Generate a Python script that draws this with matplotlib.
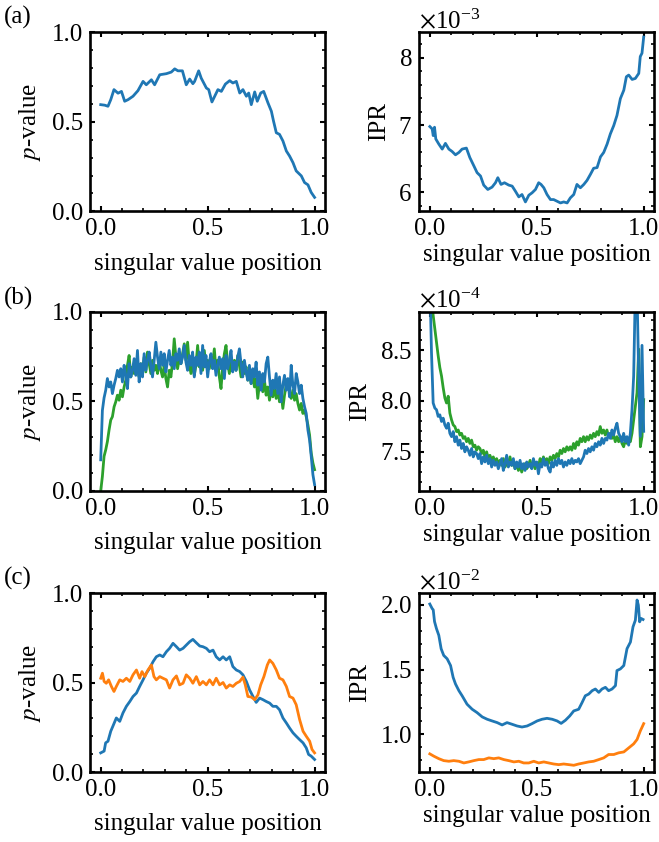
import numpy as np
import matplotlib
matplotlib.use("Agg")
import matplotlib.pyplot as plt
from matplotlib.ticker import MultipleLocator, AutoMinorLocator

# ---- data ----
# (a) p-value
xa_p = [0.000, 0.019, 0.034, 0.047, 0.062, 0.081, 0.097, 0.112, 0.128, 0.151, 0.174, 0.198, 0.213,
        0.237, 0.252, 0.276, 0.307, 0.330, 0.346, 0.361, 0.382, 0.400, 0.416, 0.431, 0.439, 0.458,
        0.470, 0.494, 0.505, 0.520, 0.533, 0.548, 0.564, 0.583, 0.603, 0.618, 0.634, 0.650, 0.665,
        0.681, 0.692, 0.704, 0.720, 0.732, 0.748, 0.762, 0.782, 0.798, 0.808, 0.821, 0.836, 0.852,
        0.868, 0.883, 0.899, 0.914, 0.938, 0.953, 0.969, 0.984, 1.000]
pa = [0.596, 0.593, 0.587, 0.624, 0.680, 0.660, 0.670, 0.615, 0.624, 0.643, 0.674, 0.726, 0.707,
      0.735, 0.707, 0.763, 0.769, 0.778, 0.796, 0.785, 0.785, 0.707, 0.739, 0.713, 0.726, 0.785,
      0.744, 0.689, 0.680, 0.611, 0.643, 0.680, 0.670, 0.711, 0.730, 0.717, 0.726, 0.661, 0.680,
      0.643, 0.661, 0.596, 0.667, 0.615, 0.661, 0.670, 0.606, 0.559, 0.504, 0.439, 0.430, 0.393,
      0.337, 0.309, 0.272, 0.226, 0.198, 0.161, 0.148, 0.106, 0.078]

# (a) IPR, units of 1e-3
xa_i = [0.000, 0.011, 0.016, 0.022, 0.028, 0.042, 0.058, 0.073, 0.089, 0.104, 0.120, 0.136, 0.151,
        0.171, 0.187, 0.206, 0.221, 0.237, 0.252, 0.271, 0.291, 0.307, 0.318, 0.333, 0.349, 0.369,
        0.385, 0.400, 0.416, 0.431, 0.447, 0.463, 0.478, 0.494, 0.509, 0.520, 0.533, 0.548, 0.564,
        0.579, 0.595, 0.611, 0.626, 0.642, 0.657, 0.673, 0.688, 0.704, 0.720, 0.735, 0.751, 0.766,
        0.782, 0.798, 0.813, 0.829, 0.844, 0.860, 0.875, 0.891, 0.907, 0.919, 0.930, 0.946, 0.961,
        0.977, 0.984, 0.992, 1.000]
ia = [6.98, 6.945, 6.845, 6.97, 6.795, 6.72, 6.645, 6.73, 6.645, 6.61, 6.56, 6.595, 6.645,
      6.66, 6.52, 6.395, 6.295, 6.245, 6.11, 6.045, 6.08, 6.145, 6.22, 6.12, 6.145, 6.11,
      6.095, 6.02, 5.935, 5.97, 5.86, 5.96, 5.995, 6.045, 6.145, 6.12, 6.07, 5.97, 5.895,
      5.895, 5.87, 5.845, 5.86, 5.845, 5.92, 5.97, 6.12, 6.07, 6.12, 6.18, 6.27, 6.36,
      6.37, 6.53, 6.595, 6.72, 6.87, 6.995, 7.145, 7.395, 7.52, 7.72, 7.745, 7.68, 7.695,
      7.77, 8.02, 8.07, 8.31]

# (b) p-value, evenly spaced positions
pb_blue = [0.174, 0.45, 0.52, 0.563, 0.628, 0.581, 0.609, 0.544,
           0.591, 0.628, 0.674, 0.637, 0.683, 0.609, 0.702, 0.646, 0.572, 0.711, 0.637, 0.674,
           0.739, 0.646, 0.785, 0.609, 0.711, 0.637, 0.767, 0.674, 0.73, 0.776, 0.702, 0.637,
           0.73, 0.831, 0.748, 0.683, 0.776, 0.702, 0.767, 0.665, 0.73, 0.785, 0.702, 0.748,
           0.683, 0.767, 0.73, 0.794, 0.711, 0.748, 0.813, 0.72, 0.674, 0.757, 0.702, 0.776,
           0.637, 0.748, 0.702, 0.776, 0.656, 0.813, 0.693, 0.757, 0.637, 0.72, 0.767, 0.683,
           0.73, 0.646, 0.702, 0.748, 0.683, 0.739, 0.628, 0.757, 0.683, 0.73, 0.785, 0.665,
           0.72, 0.674, 0.748, 0.794, 0.711, 0.637, 0.73, 0.665, 0.619, 0.702, 0.6, 0.683,
           0.637, 0.72, 0.591, 0.665, 0.563, 0.656, 0.609, 0.711, 0.748, 0.637, 0.535, 0.619,
           0.572, 0.656, 0.544, 0.637, 0.498, 0.591, 0.646, 0.563, 0.628, 0.526, 0.702, 0.591,
           0.544, 0.656, 0.609, 0.544, 0.591, 0.517, 0.47, 0.433, 0.341, 0.285, 0.193, 0.091,
           0.035]
pb_green = [0.0, 0.081, 0.193, 0.23, 0.276, 0.341, 0.396, 0.415, 0.47, 0.498, 0.535, 0.507,
            0.563, 0.526, 0.581, 0.619, 0.702, 0.757, 0.637, 0.693, 0.656, 0.711, 0.683, 0.637,
            0.711, 0.674, 0.748, 0.665, 0.776, 0.711, 0.656, 0.73, 0.674, 0.702, 0.656, 0.73,
            0.674, 0.637, 0.702, 0.628, 0.581, 0.674, 0.637, 0.72, 0.85, 0.748, 0.683, 0.739,
            0.711, 0.767, 0.822, 0.73, 0.831, 0.711, 0.656, 0.739, 0.646, 0.702, 0.813, 0.693,
            0.748, 0.674, 0.785, 0.693, 0.73, 0.683, 0.748, 0.711, 0.794, 0.674, 0.73, 0.637,
            0.572, 0.693, 0.767, 0.813, 0.711, 0.656, 0.739, 0.683, 0.73, 0.674, 0.757, 0.702,
            0.637, 0.72, 0.656, 0.693, 0.619, 0.665, 0.6, 0.646, 0.581, 0.628, 0.517, 0.6,
            0.646, 0.554, 0.619, 0.535, 0.581, 0.507, 0.563, 0.526, 0.581, 0.517, 0.563, 0.498,
            0.544, 0.461, 0.535, 0.591, 0.619, 0.554, 0.517, 0.563, 0.507, 0.544, 0.489, 0.452,
            0.489, 0.433, 0.452, 0.415, 0.369, 0.313, 0.211, 0.156, 0.119]

# (b) IPR, units of 1e-4, evenly spaced positions
ib_blue = [9.2, 8.48, 7.98, 7.93, 7.913, 7.847, 7.863, 7.797, 7.83, 7.763, 7.73, 7.78, 7.68,
           7.647, 7.697, 7.597, 7.647, 7.563, 7.613, 7.53, 7.58, 7.497, 7.547, 7.513, 7.463,
           7.53, 7.447, 7.497, 7.48, 7.43, 7.48, 7.38, 7.447, 7.397, 7.463, 7.38, 7.43, 7.347,
           7.413, 7.363, 7.397, 7.33, 7.38, 7.43, 7.313, 7.38, 7.463, 7.347, 7.397, 7.363,
           7.43, 7.33, 7.397, 7.347, 7.413, 7.33, 7.38, 7.313, 7.397, 7.347, 7.38, 7.33, 7.43,
           7.363, 7.397, 7.28, 7.38, 7.347, 7.43, 7.363, 7.397, 7.33, 7.297, 7.397, 7.347,
           7.413, 7.363, 7.43, 7.38, 7.413, 7.347, 7.397, 7.363, 7.413, 7.38, 7.43, 7.38, 7.413,
           7.397, 7.43, 7.38, 7.413, 7.447, 7.513, 7.48, 7.53, 7.497, 7.547, 7.513, 7.58, 7.547,
           7.597, 7.563, 7.63, 7.58, 7.63, 7.613, 7.68, 7.63, 7.713, 7.663, 7.73, 7.78, 7.68,
           7.647, 7.597, 7.68, 7.597, 7.647, 7.563, 7.68, 7.913, 8.247, 9.1, 9.1, 8.25, 7.65,
           8.55, 7.7]
ib_green = [9.3, 9.0, 8.847, 8.713, 8.58, 8.447, 8.33, 8.247, 8.13, 8.03, 7.98, 8.047, 7.88,
            7.813, 7.763, 7.747, 7.697, 7.713, 7.663, 7.68, 7.63, 7.647, 7.597, 7.63, 7.58,
            7.613, 7.547, 7.563, 7.513, 7.547, 7.53, 7.48, 7.513, 7.447, 7.497, 7.43, 7.463,
            7.413, 7.447, 7.397, 7.43, 7.38, 7.413, 7.363, 7.43, 7.347, 7.397, 7.38, 7.447,
            7.363, 7.397, 7.33, 7.38, 7.313, 7.363, 7.297, 7.347, 7.38, 7.33, 7.363, 7.413,
            7.347, 7.38, 7.33, 7.38, 7.347, 7.43, 7.38, 7.447, 7.397, 7.43, 7.38, 7.447, 7.413,
            7.463, 7.43, 7.48, 7.447, 7.513, 7.48, 7.53, 7.497, 7.547, 7.513, 7.547, 7.513,
            7.58, 7.53, 7.597, 7.563, 7.63, 7.597, 7.647, 7.597, 7.647, 7.613, 7.663, 7.63,
            7.68, 7.647, 7.697, 7.663, 7.747, 7.68, 7.713, 7.663, 7.713, 7.647, 7.68, 7.63,
            7.663, 7.597, 7.647, 7.597, 7.647, 7.58, 7.547, 7.613, 7.58, 7.63, 7.597, 7.68,
            7.813, 7.947, 8.08, 8.513, 7.547, 7.647, 8.013]

# (c) p-value
xc_blue = [0.000, 0.016, 0.023, 0.034, 0.047, 0.058, 0.073, 0.089, 0.104, 0.120, 0.136, 0.151,
           0.167, 0.182, 0.198, 0.213, 0.229, 0.245, 0.260, 0.276, 0.291, 0.307, 0.322, 0.338,
           0.354, 0.369, 0.385, 0.400, 0.416, 0.431, 0.447, 0.463, 0.478, 0.494, 0.509, 0.525,
           0.540, 0.556, 0.572, 0.587, 0.603, 0.618, 0.634, 0.650, 0.665, 0.681, 0.696, 0.712,
           0.727, 0.743, 0.759, 0.774, 0.790, 0.805, 0.821, 0.836, 0.852, 0.868, 0.883, 0.899,
           0.914, 0.930, 0.946, 0.961, 0.972, 0.984, 1.000]
pc_blue = [0.107, 0.117, 0.163, 0.172, 0.228, 0.259, 0.302, 0.283, 0.33, 0.367, 0.394, 0.422,
           0.441, 0.478, 0.515, 0.552, 0.58, 0.617, 0.644, 0.654, 0.644, 0.672, 0.691, 0.719,
           0.7, 0.681, 0.691, 0.709, 0.728, 0.741, 0.722, 0.704, 0.7, 0.691, 0.672, 0.681,
           0.644, 0.626, 0.644, 0.626, 0.644, 0.589, 0.57, 0.561, 0.543, 0.506, 0.459, 0.422,
           0.389, 0.413, 0.404, 0.394, 0.385, 0.367, 0.367, 0.348, 0.302, 0.274, 0.246, 0.219,
           0.2, 0.181, 0.163, 0.135, 0.098, 0.089, 0.07]
xc_orange = [0.000, 0.008, 0.016, 0.026, 0.037, 0.050, 0.062, 0.073, 0.089, 0.104, 0.120, 0.136,
             0.151, 0.167, 0.182, 0.193, 0.206, 0.221, 0.237, 0.249, 0.260, 0.276, 0.291, 0.307,
             0.322, 0.338, 0.354, 0.369, 0.385, 0.400, 0.416, 0.431, 0.447, 0.463, 0.478, 0.494,
             0.509, 0.525, 0.540, 0.556, 0.572, 0.587, 0.603, 0.618, 0.634, 0.650, 0.665, 0.676,
             0.688, 0.704, 0.720, 0.735, 0.748, 0.763, 0.779, 0.790, 0.805, 0.821, 0.836, 0.852,
             0.868, 0.883, 0.899, 0.914, 0.930, 0.946, 0.961, 0.977, 0.988, 1.000]
pc_orange = [0.524, 0.552, 0.506, 0.496, 0.515, 0.478, 0.45, 0.478, 0.515, 0.506, 0.524, 0.506,
             0.543, 0.57, 0.524, 0.561, 0.533, 0.57, 0.598, 0.533, 0.515, 0.533, 0.524, 0.515,
             0.469, 0.515, 0.537, 0.487, 0.496, 0.543, 0.524, 0.496, 0.533, 0.487, 0.506, 0.487,
             0.515, 0.487, 0.524, 0.487, 0.5, 0.469, 0.487, 0.478, 0.496, 0.506, 0.53, 0.487,
             0.422, 0.419, 0.404, 0.431, 0.487, 0.533, 0.598, 0.626, 0.607, 0.57, 0.524, 0.515,
             0.478, 0.422, 0.413, 0.376, 0.293, 0.228, 0.2, 0.172, 0.126, 0.107]

# (c) IPR, units of 1e-2
xc_i_blue = [0.000, 0.011, 0.016, 0.022, 0.031, 0.042, 0.053, 0.065, 0.081, 0.097, 0.109, 0.120,
             0.136, 0.151, 0.174, 0.198, 0.221, 0.245, 0.268, 0.291, 0.315, 0.338, 0.361, 0.385,
             0.408, 0.431, 0.455, 0.478, 0.502, 0.525, 0.548, 0.572, 0.595, 0.614, 0.634, 0.654,
             0.673, 0.696, 0.712, 0.727, 0.743, 0.759, 0.774, 0.790, 0.805, 0.821, 0.836, 0.852,
             0.868, 0.875, 0.891, 0.907, 0.922, 0.938, 0.950, 0.961, 0.969, 0.975, 0.981, 0.988,
             0.997]
ic_blue = [2.005, 1.97, 1.96, 1.87, 1.816, 1.764, 1.66, 1.609, 1.583, 1.531, 1.44, 1.389,
           1.337, 1.298, 1.233, 1.194, 1.168, 1.135, 1.117, 1.104, 1.091, 1.073, 1.091, 1.078,
           1.065, 1.057, 1.065, 1.083, 1.104, 1.117, 1.124, 1.117, 1.104, 1.085, 1.109, 1.142,
           1.181, 1.194, 1.246, 1.298, 1.311, 1.337, 1.35, 1.324, 1.35, 1.363, 1.337, 1.35,
           1.376, 1.492, 1.505, 1.531, 1.661, 1.712, 1.829, 1.88, 2.036, 1.997, 1.868, 1.894,
           1.886]
xc_i_orange = [0.000, 0.019, 0.042, 0.065, 0.089, 0.112, 0.136, 0.159, 0.182, 0.206, 0.229,
               0.252, 0.276, 0.299, 0.322, 0.346, 0.369, 0.393, 0.416, 0.439, 0.463, 0.486,
               0.509, 0.533, 0.556, 0.579, 0.603, 0.626, 0.650, 0.673, 0.696, 0.720, 0.743,
               0.766, 0.790, 0.813, 0.836, 0.860, 0.883, 0.907, 0.930, 0.953, 0.969, 0.984, 1.000]
ic_orange = [0.85, 0.832, 0.813, 0.798, 0.793, 0.798, 0.793, 0.78, 0.788, 0.798, 0.806,
             0.806, 0.819, 0.813, 0.819, 0.806, 0.798, 0.788, 0.793, 0.78, 0.78, 0.793,
             0.78, 0.788, 0.78, 0.772, 0.767, 0.772, 0.767, 0.762, 0.772, 0.78, 0.788,
             0.793, 0.806, 0.819, 0.845, 0.845, 0.858, 0.865, 0.896, 0.927, 0.961, 1.026, 1.083]

blue = "#1f77b4"
green = "#2ca02c"
orange = "#ff7f0e"

plt.rcParams["font.family"] = "serif"
plt.rcParams["font.serif"] = ["Liberation Serif", "DejaVu Serif"]
plt.rcParams["mathtext.fontset"] = "stix"
plt.rcParams["font.size"] = 18
plt.rcParams["axes.linewidth"] = 1.9
for ax_ in ["xtick", "ytick"]:
    plt.rcParams[ax_ + ".direction"] = "in"
    plt.rcParams[ax_ + ".major.size"] = 3.8
    plt.rcParams[ax_ + ".minor.size"] = 2.2
    plt.rcParams[ax_ + ".major.width"] = 1.5
    plt.rcParams[ax_ + ".minor.width"] = 1.2
    plt.rcParams[ax_ + ".major.pad"] = 5
plt.rcParams["xtick.top"] = True
plt.rcParams["ytick.right"] = True

fig = plt.figure(figsize=(6.59, 8.42), dpi=100)
lw = 2.0
lefts = [0.1366, 0.636]
bottoms = [0.749, 0.4169, 0.0831]
w, h = 0.357, 0.2126

axes = [[fig.add_axes([lefts[c], bottoms[r], w, h]) for c in range(2)] for r in range(3)]

# p-value panels
axes[0][0].plot(xa_p, pa, color=blue, lw=lw)
xb = np.linspace(0, 1, len(pb_blue))
axes[1][0].plot(np.linspace(0, 1, len(pb_green)), pb_green, color=green, lw=lw)
axes[1][0].plot(xb, pb_blue, color=blue, lw=lw)
axes[2][0].plot(xc_blue, pc_blue, color=blue, lw=lw)
axes[2][0].plot(xc_orange, pc_orange, color=orange, lw=lw)

# IPR panels
axes[0][1].plot(xa_i, np.array(ia) * 1e-3, color=blue, lw=lw)
axes[1][1].plot(np.linspace(0, 1, len(ib_green)), np.array(ib_green) * 1e-4, color=green, lw=lw)
axes[1][1].plot(np.linspace(0, 1, len(ib_blue)), np.array(ib_blue) * 1e-4, color=blue, lw=lw)
axes[2][1].plot(xc_i_blue, np.array(ic_blue) * 1e-2, color=blue, lw=lw)
axes[2][1].plot(xc_i_orange, np.array(ic_orange) * 1e-2, color=orange, lw=lw)

ipr_lims = [(5.72e-3, 8.38e-3), (7.11e-4, 8.88e-4), (0.71e-2, 2.09e-2)]
ipr_steps = [1e-3, 0.5e-4, 0.5e-2]

for r in range(3):
    for c in range(2):
        ax = axes[r][c]
        ax.set_xlim(-0.05, 1.05)
        ax.xaxis.set_major_locator(MultipleLocator(0.5))
        ax.xaxis.set_minor_locator(AutoMinorLocator(5))
        ax.yaxis.set_minor_locator(AutoMinorLocator(5))
        if c == 0:
            ax.set_ylim(0, 1)
            ax.yaxis.set_major_locator(MultipleLocator(0.5))
            ax.set_ylabel(r"$p$-value", labelpad=6)
            ax.set_xlabel("singular value position", labelpad=9)
        else:
            ax.set_ylim(*ipr_lims[r])
            ax.yaxis.set_major_locator(MultipleLocator(ipr_steps[r]))
            ax.ticklabel_format(axis="y", style="sci", scilimits=(0, 0), useMathText=True, useOffset=False)
            ax.set_ylabel("IPR", labelpad=6)
            ax.set_xlabel("singular value position", labelpad=3)

fig.text(0.006, 0.979, "(a)", va="center", ha="left")
fig.text(0.006, 0.646, "(b)", va="center", ha="left")
fig.text(0.006, 0.313, "(c)", va="center", ha="left")

fig.savefig("out.png", dpi=100)
